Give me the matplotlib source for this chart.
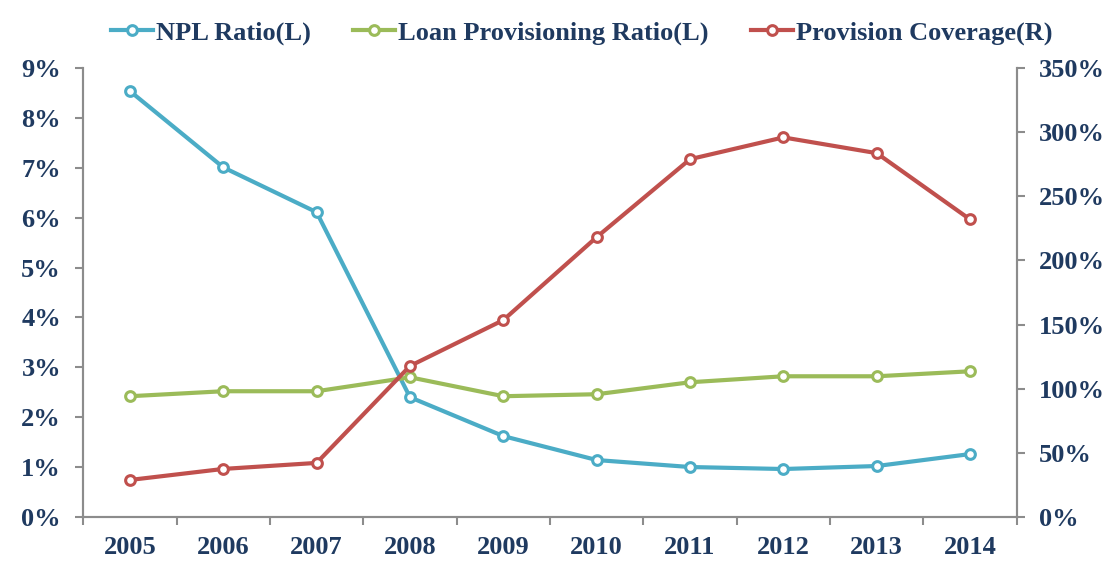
import numpy as np
import matplotlib
matplotlib.use("Agg")
from matplotlib import pyplot as plt
from matplotlib.ticker import FuncFormatter, FixedLocator

years = ["2005", "2006", "2007", "2008", "2009", "2010", "2011", "2012", "2013", "2014"]
npl_ratio = [8.54, 7.01, 6.11, 2.40, 1.62, 1.14, 1.00, 0.96, 1.02, 1.26]
loan_prov_ratio = [2.42, 2.52, 2.52, 2.80, 2.42, 2.46, 2.70, 2.82, 2.82, 2.92]
prov_coverage = [28.8, 37.4, 42.1, 117.7, 153.5, 218.2, 279.0, 296.0, 283.7, 232.0]

text_color = "#1f3a60"
axis_color = "#8c8c8c"
plt.rcParams["font.family"] = ["Liberation Serif", "DejaVu Serif"]
plt.rcParams["font.weight"] = "bold"

fig = plt.figure(figsize=(11.1, 5.68), dpi=100)
ax = fig.add_axes([0.075, 0.09, 0.841, 0.79])
ax2 = ax.twinx()

x = np.arange(len(years))
mk = dict(marker="o", markersize=7, markerfacecolor="white", markeredgewidth=2.2, linewidth=3)
l1, = ax.plot(x, npl_ratio, color="#4bacc6", markeredgecolor="#4bacc6", label="NPL Ratio(L)", **mk)
l2, = ax.plot(x, loan_prov_ratio, color="#9bbb59", markeredgecolor="#9bbb59", label="Loan Provisioning Ratio(L)", **mk)
l3, = ax2.plot(x, prov_coverage, color="#c0504d", markeredgecolor="#c0504d", label="Provision Coverage(R)", **mk)

ax.set_xlim(-0.5, len(years) - 0.5)
ax.set_ylim(0, 9)
ax2.set_ylim(0, 350)
ax.set_yticks(np.arange(0, 10, 1))
ax2.set_yticks(np.arange(0, 351, 50))
ax.yaxis.set_major_formatter(FuncFormatter(lambda v, p: f"{v:.0f}%"))
ax2.yaxis.set_major_formatter(FuncFormatter(lambda v, p: f"{v:.0f}%"))

# category labels centred, tick marks on the category boundaries
ax.set_xticks(x)
ax.set_xticklabels(years)
ax.xaxis.set_minor_locator(FixedLocator(np.arange(-0.5, len(years), 1)))
ax.tick_params(axis="x", which="major", length=0, pad=14)
ax.tick_params(axis="x", which="minor", length=6, width=1.5, color=axis_color, direction="out")
ax.tick_params(axis="y", length=6, width=1.5, color=axis_color, pad=10)
ax2.tick_params(axis="y", length=6, width=1.5, color=axis_color, pad=10)

for a in (ax, ax2):
    for lab in a.get_xticklabels() + a.get_yticklabels():
        lab.set_color(text_color)
        lab.set_fontsize(19)
        lab.set_fontweight("bold")
    a.spines["top"].set_visible(False)
    for side in ("left", "right", "bottom"):
        a.spines[side].set_color(axis_color)
        a.spines[side].set_linewidth(1.5)

leg = fig.legend(handles=[l1, l2, l3], loc="upper center", bbox_to_anchor=(0.524, 1.005), ncol=3,
                 frameon=False, handlelength=1.6, handletextpad=0.1, columnspacing=1.6,
                 prop={"size": 19, "weight": "bold"})
for t in leg.get_texts():
    t.set_color(text_color)

fig.savefig("out.png", dpi=100)
